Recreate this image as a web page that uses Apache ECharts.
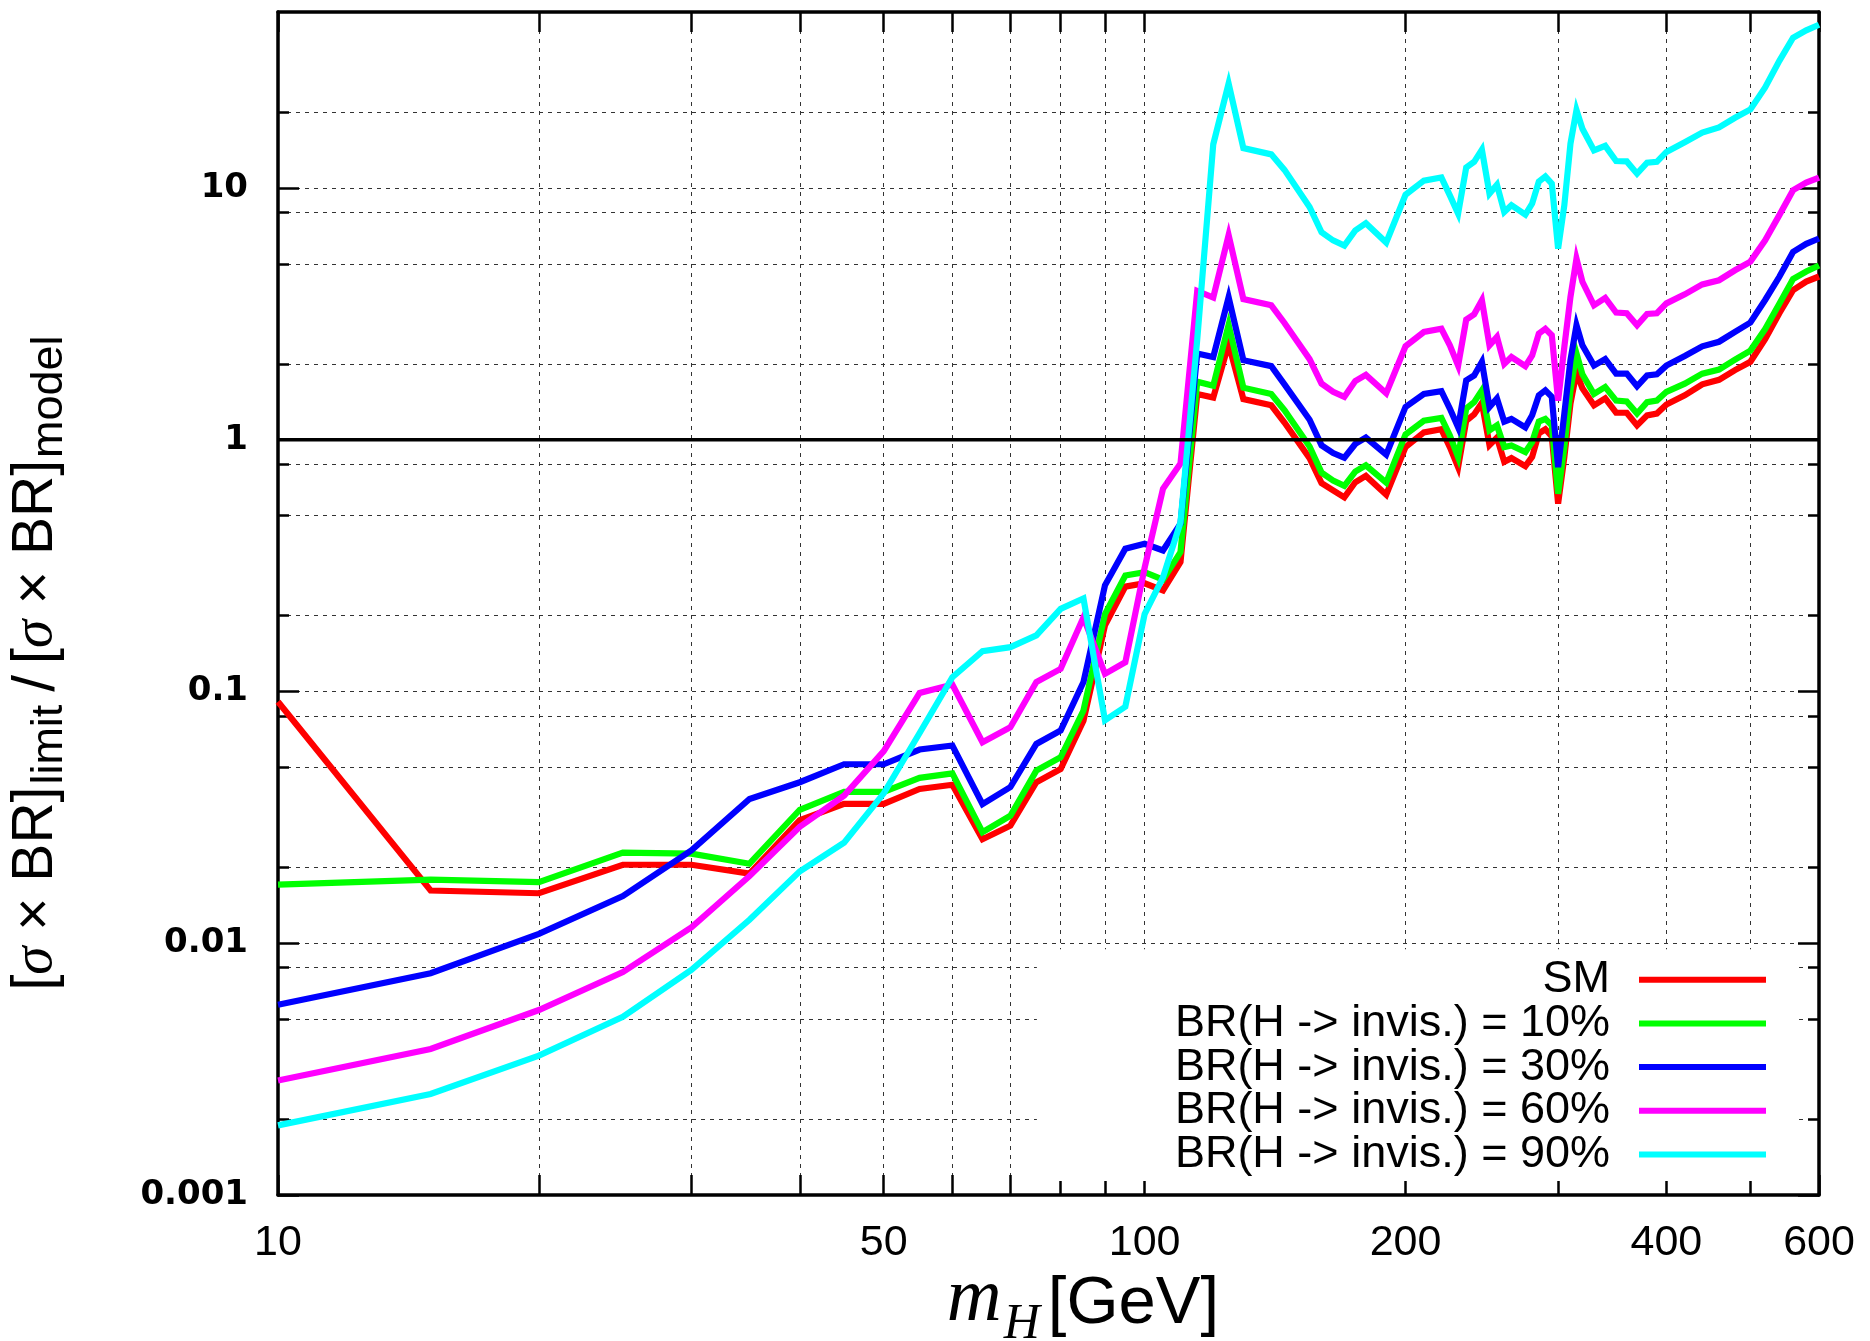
<!DOCTYPE html>
<html>
<head>
<meta charset="utf-8">
<script src="https://cdn.jsdelivr.net/npm/echarts@6/dist/echarts.min.js"></script>
<style>
html,body{margin:0;padding:0;background:#fff;}
#c{width:1870px;height:1341px;}
</style>
</head>
<body>
<div id="c"></div>
<script>
// Higgs mass points [GeV]
const masses = [10,15,20,25,30,35,40,45,50,55,
  60,65,70,75,80,85,90,95,100,105,
  110,115,120,125,130,140,145,155,160,165,
  170,175,180,190,200,210,220,225,230,235,
  240,245,250,255,260,265,275,280,285,290,
  295,300,305,310,315,320,330,340,350,360,
  370,380,390,400,420,440,460,480,500,520,
  540,560,580,600];

const sm = [0.091,0.0162,0.0158,0.0205,0.0205,0.0189,0.0308,0.0358,0.0358,0.041,
  0.0426,0.0259,0.0293,0.0436,0.0492,0.0766,0.183,0.261,0.269,0.252,
  0.327,1.52,1.47,2.4,1.45,1.37,1.17,0.845,0.672,0.629,
  0.59,0.678,0.718,0.605,0.935,1.07,1.1,0.935,0.778,1.19,
  1.26,1.4,0.952,1.02,0.817,0.845,0.785,0.855,1.06,1.1,
  1.03,0.557,0.853,1.39,1.85,1.6,1.37,1.46,1.28,1.28,
  1.14,1.25,1.27,1.38,1.5,1.66,1.73,1.89,2.04,2.51,
  3.18,3.93,4.25,4.45];

const br10 = [0.0171,0.0179,0.0175,0.0229,0.0227,0.0207,0.0339,0.0399,0.0399,0.0454,
  0.0473,0.0276,0.0321,0.0485,0.0548,0.084,0.203,0.289,0.298,0.278,
  0.358,1.7,1.64,2.86,1.61,1.52,1.31,0.94,0.74,0.689,
  0.656,0.747,0.791,0.675,1.05,1.19,1.22,1.04,0.853,1.33,
  1.41,1.57,1.09,1.14,0.935,0.949,0.893,0.979,1.18,1.21,
  1.14,0.61,0.935,1.57,2.2,1.82,1.52,1.62,1.43,1.42,
  1.27,1.41,1.43,1.55,1.67,1.83,1.9,2.08,2.26,2.75,
  3.47,4.35,4.66,4.92];

const br30 = [0.0057,0.0076,0.0109,0.0154,0.0234,0.0374,0.0436,0.0514,0.0514,0.0588,
  0.061,0.0357,0.0417,0.0619,0.07,0.109,0.264,0.369,0.386,0.363,
  0.464,2.2,2.13,3.68,2.07,1.96,1.66,1.2,0.95,0.885,
  0.848,0.962,1.02,0.872,1.35,1.52,1.56,1.33,1.12,1.72,
  1.8,2.04,1.35,1.46,1.18,1.21,1.12,1.25,1.5,1.57,
  1.48,0.778,1.27,2.07,2.85,2.37,1.97,2.09,1.83,1.83,
  1.63,1.8,1.82,1.97,2.15,2.35,2.45,2.68,2.92,3.59,
  4.44,5.57,6.0,6.3];

const br60 = [0.00285,0.0038,0.00543,0.00768,0.01156,0.0185,0.029,0.0386,0.058,0.0987,
  0.1066,0.0629,0.0721,0.109,0.123,0.197,0.1175,0.1306,0.31,0.639,
  0.805,3.9,3.67,6.5,3.62,3.42,2.91,2.09,1.67,1.55,
  1.48,1.71,1.81,1.53,2.35,2.68,2.76,2.37,1.97,3.0,
  3.15,3.58,2.37,2.56,2.0,2.13,1.96,2.16,2.64,2.76,
  2.6,1.43,2.34,3.69,5.24,4.24,3.42,3.66,3.2,3.18,
  2.85,3.16,3.18,3.48,3.78,4.14,4.3,4.71,5.1,6.2,
  7.8,9.8,10.5,11.0];

const br90 = [0.00189,0.00252,0.00358,0.0051,0.00784,0.0124,0.0193,0.0251,0.0394,0.0684,
  0.114,0.1445,0.15,0.167,0.213,0.234,0.0768,0.087,0.203,0.284,
  0.47,2.5,14.9,26.0,14.4,13.6,11.8,8.4,6.67,6.19,
  5.9,6.78,7.24,6.07,9.4,10.7,11.0,9.35,7.91,12.05,
  12.7,14.2,9.5,10.3,8.03,8.54,7.84,8.67,10.6,11.1,
  10.4,5.74,8.54,15.0,20.4,17.2,14.1,14.7,12.8,12.75,
  11.4,12.6,12.7,13.9,15.2,16.6,17.4,19.0,20.5,25.1,
  32.0,39.5,42.3,44.5];

const refLine = [[10, 1], [600, 1]];

const seriesNames = ['SM', 'BR(H -> invis.) = 10%', 'BR(H -> invis.) = 30%', 'BR(H -> invis.) = 60%', 'BR(H -> invis.) = 90%'];
const seriesColors = ['#ff0000', '#00ff00', '#0000ff', '#ff00ff', '#00ffff'];
const seriesValues = [sm, br10, br30, br60, br90];

const xTicks = [10,20,30,40,50,60,70,80,90,100,200,300,400,500,600];
const xLabels = [10,50,100,200,400,600];
const yMajor = [0.001,0.01,0.1,1,10];
const yGrid = [0.002,0.005,0.008,0.01,0.02,0.05,0.08,0.1,0.2,0.5,0.8,1,2,5,8,10,20];

const SANS = "'Liberation Sans', Arial, sans-serif";
const SERIF = "'Liberation Serif', 'Times New Roman', serif";

function fmtY(v) {
  if (v >= 1) return String(Math.round(v));
  const d = Math.round(-Math.log10(v));
  return v.toFixed(d);
}

const chart = echarts.init(document.getElementById('c'), null, {renderer: 'canvas'});

const series = seriesNames.map((n, i) => ({
  name: n,
  type: 'line',
  xAxisIndex: 0,
  yAxisIndex: 0,
  data: masses.map((m, k) => [m, seriesValues[i][k]]),
  symbol: 'none',
  smooth: false,
  clip: true,
  lineStyle: {color: seriesColors[i], width: 6.2, join: 'miter', miterLimit: 6},
  itemStyle: {color: seriesColors[i]},
  emphasis: {disabled: true},
  z: 3
}));
series.push({
  name: 'ref',
  type: 'line',
  xAxisIndex: 0,
  yAxisIndex: 0,
  data: refLine,
  symbol: 'none',
  lineStyle: {color: '#000', width: 3.5},
  emphasis: {disabled: true},
  silent: true,
  z: 5
});

const gridLineStyle = {color: '#333', width: 1, type: [4, 5]};

const option = {
  animation: false,
  backgroundColor: '#fff',
  grid: {left: 278, right: 51, top: 12, bottom: 146, containLabel: false, outerBoundsMode: 'none'},
  legend: {
    data: seriesNames,
    orient: 'vertical',
    align: 'right',
    right: 75,
    bottom: 160,
    itemWidth: 127,
    itemHeight: 40,
    itemGap: -1.3,
    icon: 'path://M0 0H127V6H0Z',
    backgroundColor: '#fff',
    padding: [8, 29, 4, 138],
    selectedMode: false,
    textStyle: {fontFamily: SANS, fontSize: 45, color: '#000', lineHeight: 40, padding: [0, 24, 0, 0]}
  },
  graphic: [
    {
      type: 'text',
      x: 1083, y: 1316,
      z: 10,
      silent: true,
      style: {
        text: '{m|m}{h|H}{g|[GeV]}',
        align: 'center',
        verticalAlign: 'middle',
        fill: '#000',
        rich: {
          m: {fontFamily: SERIF, fontStyle: 'italic', fontSize: 76, fill: '#000', lineHeight: 68, verticalAlign: 'bottom', padding: [0, 0, 12, 0]},
          h: {fontFamily: SERIF, fontStyle: 'italic', fontSize: 50, fill: '#000', lineHeight: 50, verticalAlign: 'bottom', padding: [0, 8, 0, 2]},
          g: {fontFamily: SANS, fontSize: 67, fill: '#000', lineHeight: 68, verticalAlign: 'bottom', padding: [0, 0, 12, 0]}
        }
      }
    },
    {
      type: 'text',
      x: 42, y: 662,
      rotation: Math.PI / 2,
      z: 10,
      silent: true,
      style: {
        text: '{b|[}{s|σ}{b| × BR]}{u|limit}{sl|/}{b|[}{s|σ}{b| × BR]}{u|model}',
        align: 'center',
        verticalAlign: 'middle',
        fill: '#000',
        rich: {
          b: {fontFamily: SANS, fontSize: 57, fill: '#000', lineHeight: 57, verticalAlign: 'bottom', padding: [0, 0, 7, 0]},
          s: {fontFamily: SERIF, fontStyle: 'italic', fontSize: 57, fill: '#000', lineHeight: 57, verticalAlign: 'bottom', padding: [0, 0, 7, 0]},
          sl: {fontFamily: SANS, fontSize: 60, fill: '#000', lineHeight: 60, verticalAlign: 'bottom', padding: [0, 11, 5, 11]},
          u: {fontFamily: SANS, fontSize: 45, fill: '#000', lineHeight: 45, verticalAlign: 'bottom', padding: [0, 2, 0, 2]}
        }
      }
    }
  ],
  xAxis: [
    {
      type: 'log', logBase: 10, min: 10, max: 600, position: 'bottom',
      axisLine: {show: true, onZero: false, lineStyle: {color: '#000', width: 3.5}},
      axisTick: {show: true, inside: true, length: 20, lineStyle: {color: '#000', width: 2.5}, customValues: xTicks},
      minorTick: {show: false},
      axisLabel: {show: true, customValues: xLabels, fontFamily: SANS, fontSize: 43, color: '#000', margin: 27,
        formatter: v => String(Math.round(v))},
      splitLine: {show: true, lineStyle: gridLineStyle}
    },
    {
      type: 'log', logBase: 10, min: 10, max: 600, position: 'top',
      axisLine: {show: true, onZero: false, lineStyle: {color: '#000', width: 3.5}},
      axisTick: {show: true, inside: true, length: 20, lineStyle: {color: '#000', width: 2.5}, customValues: xTicks},
      axisLabel: {show: false},
      splitLine: {show: false}
    }
  ],
  yAxis: [
    {
      type: 'log', logBase: 10, min: 0.001, max: 50, position: 'left',
      axisLine: {show: true, onZero: false, lineStyle: {color: '#000', width: 3.5}},
      axisTick: {show: true, inside: true, length: 21, lineStyle: {color: '#000', width: 2.5}, customValues: yMajor},
      minorTick: {show: false},
      axisLabel: {show: true, customValues: yMajor, fontFamily: "'DejaVu Sans', sans-serif", fontWeight: 'bold', fontSize: 34, color: '#000', margin: 30, formatter: fmtY},
      splitLine: {show: false}
    },
    {
      type: 'log', logBase: 10, min: 0.001, max: 50, position: 'left',
      axisLine: {show: false},
      axisTick: {show: true, inside: true, length: 11, lineStyle: {color: '#000', width: 2.5}, customValues: yGrid},
      axisLabel: {show: false},
      splitLine: {show: true, lineStyle: gridLineStyle}
    },
    {
      type: 'log', logBase: 10, min: 0.001, max: 50, position: 'right',
      axisLine: {show: true, onZero: false, lineStyle: {color: '#000', width: 3.5}},
      axisTick: {show: true, inside: true, length: 21, lineStyle: {color: '#000', width: 2.5}, customValues: yMajor},
      axisLabel: {show: false},
      splitLine: {show: false}
    },
    {
      type: 'log', logBase: 10, min: 0.001, max: 50, position: 'right',
      axisLine: {show: false},
      axisTick: {show: true, inside: true, length: 11, lineStyle: {color: '#000', width: 2.5}, customValues: yGrid},
      axisLabel: {show: false},
      splitLine: {show: false}
    }
  ],
  series: series
};

chart.setOption(option);
</script>
</body>
</html>
